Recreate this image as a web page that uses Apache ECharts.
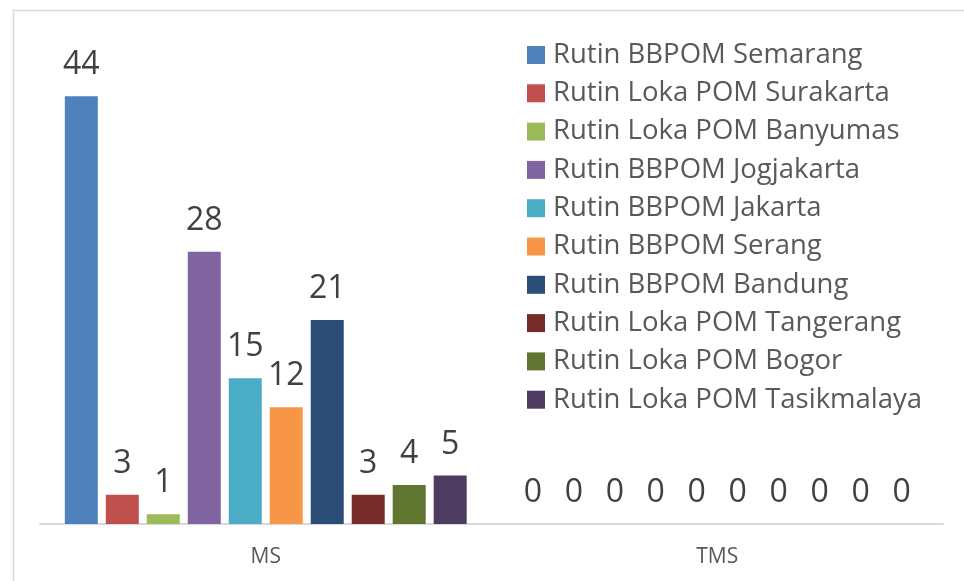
<!DOCTYPE html>
<html>
<head>
<meta charset="utf-8">
<script src="https://cdn.jsdelivr.net/npm/echarts@6/dist/echarts.min.js"></script>
<style>html,body{margin:0;padding:0;background:#fff}#c{width:964px;height:581px}</style>
</head>
<body>
<div id="c"></div>
<script>
const categories = ['MS', 'TMS'];
const seriesNames = [
  'Rutin BBPOM Semarang',
  'Rutin Loka POM Surakarta',
  'Rutin Loka POM Banyumas',
  'Rutin BBPOM Jogjakarta',
  'Rutin BBPOM Jakarta',
  'Rutin BBPOM Serang',
  'Rutin BBPOM Bandung',
  'Rutin Loka POM Tangerang',
  'Rutin Loka POM Bogor',
  'Rutin Loka POM Tasikmalaya'
];
const semarang = [44, 0];
const surakarta = [3, 0];
const banyumas = [1, 0];
const jogjakarta = [28, 0];
const jakarta = [15, 0];
const serang = [12, 0];
const bandung = [21, 0];
const tangerang = [3, 0];
const bogor = [4, 0];
const tasikmalaya = [5, 0];
const seriesValues = [semarang, surakarta, banyumas, jogjakarta, jakarta, serang, bandung, tangerang, bogor, tasikmalaya];
const colors = ['#4F81BD', '#C0504D', '#9BBB59', '#8064A2', '#4BACC6', '#F79646', '#2C4D75', '#772C2A', '#5F7530', '#4D3B62'];

const FONT = 'Open Sans';
const chart = echarts.init(document.getElementById('c'), null, {renderer: 'canvas'});
chart.setOption({
  animation: false,
  color: colors,
  graphic: [{
    type: 'rect', left: 11, top: 8, z: -1,
    shape: {width: 1000, height: 620},
    style: {fill: 'none', stroke: '#d9d9d9', lineWidth: 1.5}
  }],
  grid: {left: 40, right: 21, top: 38, bottom: 57},
  legend: {
    orient: 'vertical',
    left: 527,
    top: 40,
    padding: 0,
    itemWidth: 18,
    itemHeight: 18,
    itemGap: 8.3,
    icon: 'rect',
    textStyle: {fontFamily: FONT, fontSize: 27.5, color: '#595959', lineHeight: 30, padding: [0, 0, 0, 3]},
    data: seriesNames
  },
  xAxis: {
    type: 'category',
    data: categories,
    axisLine: {lineStyle: {color: '#d9d9d9', width: 2}},
    axisTick: {show: false},
    axisLabel: {fontFamily: FONT, fontSize: 21, color: '#595959', margin: 23}
  },
  yAxis: {
    type: 'value', min: 0, max: 50, interval: 10,
    show: false, splitLine: {show: false}
  },
  series: seriesNames.map((n, i) => ({
    name: n,
    type: 'bar',
    data: seriesValues[i],
    barWidth: 33,
    barGap: '24.2%',
    label: {show: true, position: 'top', distance: 15, fontFamily: FONT, fontSize: 32, color: '#404040'}
  }))
});
</script>
</body>
</html>
